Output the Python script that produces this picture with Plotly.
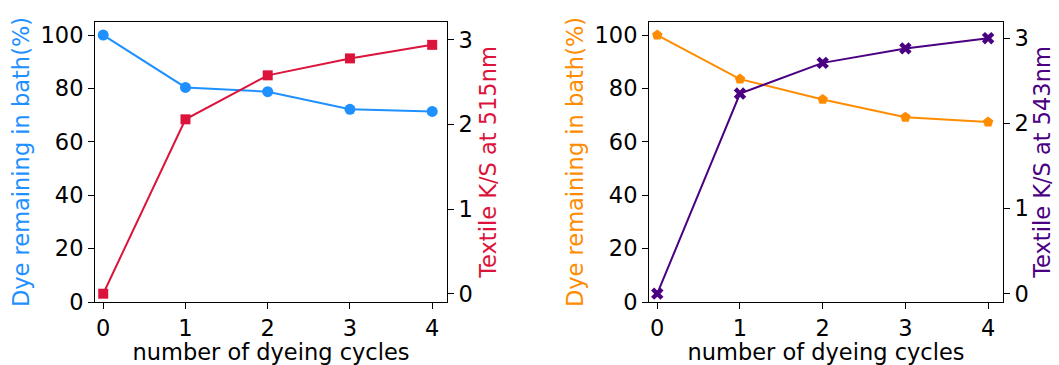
import plotly.graph_objects as go

cycles = [0, 1, 2, 3, 4]
dye_left = [100, 80.4, 78.8, 72.2, 71.4]
ks_515 = [0.0, 2.06, 2.58, 2.78, 2.94]
dye_right = [100, 83.5, 75.9, 69.2, 67.4]
ks_543 = [0.0, 2.35, 2.71, 2.88, 3.00]

BLUE = "#1E90FF"
RED = "#DC143C"
ORANGE = "#FF8C00"
INDIGO = "#4B0082"
FONT = "DejaVu Sans"
FS = 22.5

fig = go.Figure()
fig.add_trace(go.Scatter(x=cycles, y=dye_left, mode="lines+markers", xaxis="x", yaxis="y",
                         line=dict(color=BLUE, width=2), marker=dict(symbol="circle", size=11, color=BLUE)))
fig.add_trace(go.Scatter(x=cycles, y=ks_515, mode="lines+markers", xaxis="x", yaxis="y2",
                         line=dict(color=RED, width=2), marker=dict(symbol="square", size=10, color=RED)))
fig.add_trace(go.Scatter(x=cycles, y=dye_right, mode="lines+markers", xaxis="x2", yaxis="y3",
                         line=dict(color=ORANGE, width=2), marker=dict(symbol="pentagon", size=11, color=ORANGE)))
fig.add_trace(go.Scatter(x=cycles, y=ks_543, mode="lines+markers", xaxis="x2", yaxis="y4",
                         line=dict(color=INDIGO, width=2), marker=dict(symbol="x", size=11, color=INDIGO)))

common = dict(showgrid=False, zeroline=False, showline=True, linecolor="black", linewidth=1,
              ticks="outside", ticklen=6, tickcolor="black", tickwidth=1,
              tickfont=dict(family=FONT, size=FS, color="black"), automargin=False)

xcommon = dict(common, range=[-0.1, 4.18], tickvals=cycles, mirror=True,
               title=dict(text="number of dyeing cycles", font=dict(family=FONT, size=FS, color="black"), standoff=4))
ytitle_font = lambda c: dict(family=FONT, size=FS, color=c)

fig.update_layout(
    width=1059, height=365,
    margin=dict(l=0, r=0, t=22, b=63),
    paper_bgcolor="white", plot_bgcolor="white",
    showlegend=False,
    xaxis=dict(xcommon, domain=[95/1059, 447/1059], anchor="y"),
    xaxis2=dict(xcommon, domain=[649/1059, 1003/1059], anchor="y3"),
    yaxis=dict(common, range=[0, 104.9], tickvals=[0, 20, 40, 60, 80, 100], anchor="x", side="left",
               title=dict(text="Dye remaining in bath(%)", font=ytitle_font(BLUE), standoff=4)),
    yaxis2=dict(common, range=[-0.098, 3.21], tickvals=[0, 1, 2, 3], anchor="x", overlaying="y", side="right",
                title=dict(text="Textile K/S at 515nm", font=ytitle_font(RED), standoff=8)),
    yaxis3=dict(common, range=[0, 104.9], tickvals=[0, 20, 40, 60, 80, 100], anchor="x2", side="left",
                title=dict(text="Dye remaining in bath(%)", font=ytitle_font(ORANGE), standoff=4)),
    yaxis4=dict(common, range=[-0.098, 3.19], tickvals=[0, 1, 2, 3], anchor="x2", overlaying="y3", side="right",
                title=dict(text="Textile K/S at 543nm", font=ytitle_font(INDIGO), standoff=6)),
)

fig.write_html("out.html", config={"displayModeBar": False},
               post_script="document.body.style.margin='0';document.body.style.overflow='hidden';")
